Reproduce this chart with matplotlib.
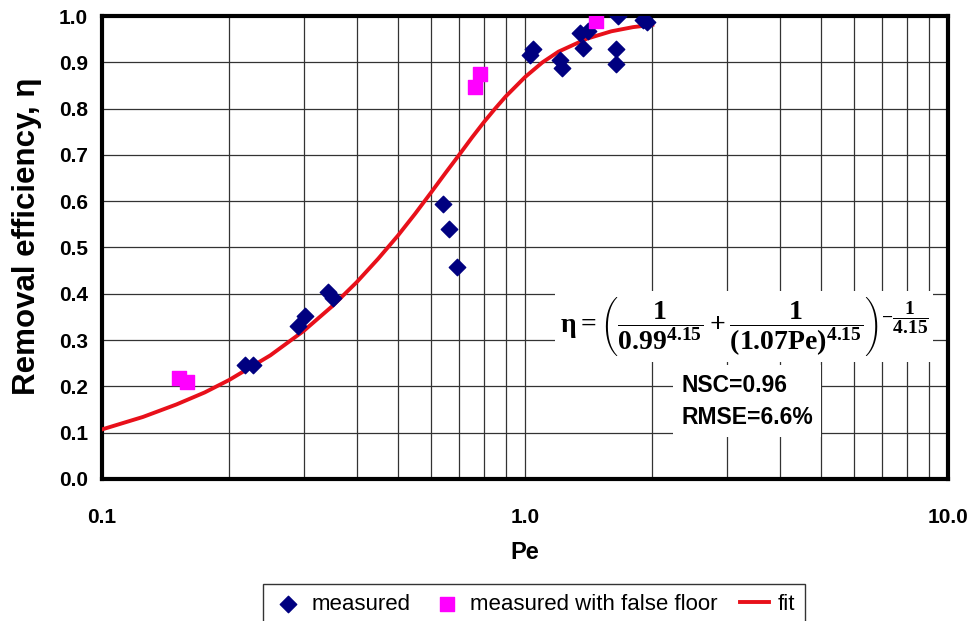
import matplotlib
matplotlib.use("Agg")
import matplotlib.pyplot as plt
from matplotlib.ticker import FixedLocator, NullFormatter, LogLocator

plt.rcParams["font.family"] = ["Liberation Sans", "DejaVu Sans"]
plt.rcParams["mathtext.fontset"] = "custom"
plt.rcParams["mathtext.rm"] = "Liberation Serif:bold"
plt.rcParams["mathtext.it"] = "Liberation Serif:bold"
plt.rcParams["mathtext.bf"] = "Liberation Serif:bold"

# measured points (Pe, removal efficiency)
measured_pe = [0.218, 0.228, 0.290, 0.302, 0.342, 0.352, 0.640, 0.660, 0.690,
               1.03, 1.045, 1.21, 1.22, 1.35, 1.41, 1.375, 1.66, 1.64, 1.64, 1.90, 1.94]
measured_eta = [0.246, 0.246, 0.330, 0.352, 0.404, 0.391, 0.594, 0.540, 0.458,
                0.916, 0.929, 0.905, 0.888, 0.963, 0.968, 0.931, 1.000, 0.929, 0.896, 0.991, 0.987]

# measured with false floor
floor_pe = [0.152, 0.159, 0.762, 0.783, 1.47]
floor_eta = [0.218, 0.210, 0.847, 0.875, 0.989]

# fit curve
fit_pe = [0.10, 0.125, 0.15, 0.175, 0.20, 0.25, 0.30, 0.35, 0.40, 0.45, 0.50, 0.55,
          0.60, 0.65, 0.70, 0.75, 0.80, 0.85, 0.90, 1.0, 1.1, 1.2, 1.4, 1.6, 1.8, 2.0]
fit_eta = [0.107, 0.134, 0.161, 0.187, 0.214, 0.267, 0.320, 0.373, 0.425, 0.476,
           0.525, 0.573, 0.619, 0.662, 0.701, 0.738, 0.771, 0.800, 0.826, 0.868,
           0.900, 0.923, 0.951, 0.967, 0.976, 0.981]

fig = plt.figure(figsize=(9.73, 6.21), dpi=100)
ax = fig.add_axes([0.1048, 0.2287, 0.9743 - 0.1048, 0.9742 - 0.2287])

ax.set_xscale("log")
ax.set_xlim(0.1, 10)
ax.set_ylim(0, 1)

ax.xaxis.set_major_locator(FixedLocator([0.1, 1.0, 10.0]))
ax.xaxis.set_minor_locator(LogLocator(base=10, subs=range(2, 10)))
ax.xaxis.set_minor_formatter(NullFormatter())
ax.set_xticklabels(["0.1", "1.0", "10.0"])
ax.set_yticks([i / 10 for i in range(11)])
ax.set_yticklabels([f"{i / 10:.1f}" for i in range(11)])

ax.grid(True, which="both", axis="x", color="#333333", linewidth=0.9)
ax.grid(True, which="major", axis="y", color="#333333", linewidth=0.9)
ax.set_axisbelow(True)

ax.tick_params(axis="x", which="both", length=0, pad=21)
ax.tick_params(axis="y", which="both", length=0, pad=10)
for lab in ax.get_xticklabels() + ax.get_yticklabels():
    lab.set_fontweight("bold")
    lab.set_fontsize(15)

for sp in ax.spines.values():
    sp.set_linewidth(3)
    sp.set_color("black")

ax.plot(fit_pe, fit_eta, color="#e8101a", linewidth=2.8, zorder=3, label="fit")
ax.scatter(measured_pe, measured_eta, marker="D", s=70, color="#000080", zorder=4,
           label="measured")
ax.scatter(floor_pe, floor_eta, marker="s", s=110, color="#ff00ff", zorder=4,
           label="measured with false floor")

ax.set_ylabel("Removal efficiency, η", fontsize=22.5, fontweight="bold")
ax.yaxis.set_label_coords(-0.071, 0.525)
ax.set_xlabel("Pe", fontsize=17, fontweight="bold", labelpad=10)

formula = (r"$\eta = \left(\dfrac{1}{0.99^{4.15}} + \dfrac{1}{(1.07\mathrm{Pe})^{4.15}}\right)"
           r"^{-\dfrac{1}{4.15}}$")
ax.text(0.759, 0.33, formula, transform=ax.transAxes, fontsize=20, ha="center",
        va="center", zorder=5,
        bbox=dict(facecolor="white", edgecolor="none", pad=3))
ax.text(0.685, 0.168, "NSC=0.96\nRMSE=6.6%", transform=ax.transAxes, fontsize=16.5,
        fontweight="bold", ha="left", va="center", linespacing=1.5, zorder=5,
        bbox=dict(facecolor="white", edgecolor="none", pad=6))

handles, labels = ax.get_legend_handles_labels()
order = [1, 2, 0]
leg = fig.legend([handles[i] for i in order], [labels[i] for i in order],
                 loc="upper center", bbox_to_anchor=(0.549, 0.078), ncol=3,
                 fontsize=16, frameon=True, fancybox=False, handlelength=1.3,
                 handletextpad=0.4, columnspacing=1.0, borderpad=0.45)
leg.get_frame().set_edgecolor("black")
leg.get_frame().set_linewidth(1.0)

fig.savefig("out.png", dpi=100)
